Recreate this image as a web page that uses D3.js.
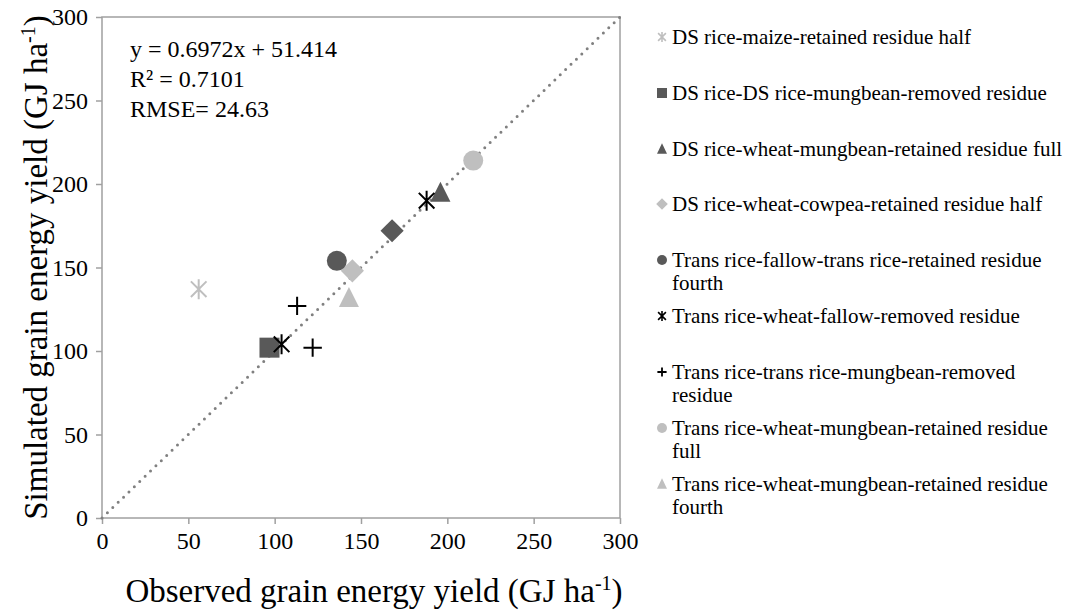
<!DOCTYPE html>
<html>
<script src="https://d3js.org/d3.v7.min.js"></script>
<style>
    body { margin: 0; background: #fff; }
    text { font-family: "Liberation Serif", "Times New Roman", serif; fill: #000; }
    .axis .domain { display: none; }
    .axis line { stroke: #a0a0a0; stroke-width: 1.5px; }
    .axis text { font-size: 24px; }
</style>
<body></body>
<script>
    // series in legend order; last one (dark diamond) has no legend entry
    const seriesNames = [
        "DS rice-maize-retained residue half",
        "DS rice-DS rice-mungbean-removed residue",
        "DS rice-wheat-mungbean-retained residue full",
        "DS rice-wheat-cowpea-retained residue half",
        "Trans rice-fallow-trans rice-retained residue fourth",
        "Trans rice-wheat-fallow-removed residue",
        "Trans rice-trans rice-mungbean-removed residue",
        "Trans rice-wheat-mungbean-retained residue full",
        "Trans rice-wheat-mungbean-retained residue fourth",
        ""
    ];
    const observed = [[56], [97], [196], [145], [136], [104, 188], [113, 122], [215], [143], [168]];
    const simulated = [[137], [102], [195], [148], [154], [104, 190], [127, 102], [214], [132], [172]];
    const markerShapes = ["star", "square", "triangle", "diamond", "circle", "star", "plus", "circle", "triangle", "diamond"];
    const markerColors = ["#bfbfbf", "#595959", "#595959", "#bfbfbf", "#595959", "#000", "#000", "#bfbfbf", "#bfbfbf", "#595959"];
    const tickValues = [0, 50, 100, 150, 200, 250, 300];
    const legendLines = [
        ["DS rice-maize-retained residue half"],
        ["DS rice-DS rice-mungbean-removed residue"],
        ["DS rice-wheat-mungbean-retained residue full"],
        ["DS rice-wheat-cowpea-retained residue half"],
        ["Trans rice-fallow-trans rice-retained residue", "fourth"],
        ["Trans rice-wheat-fallow-removed residue"],
        ["Trans rice-trans rice-mungbean-removed", "residue"],
        ["Trans rice-wheat-mungbean-retained residue", "full"],
        ["Trans rice-wheat-mungbean-retained residue", "fourth"]
    ];
    const statLines = ["y = 0.6972x + 51.414", "R² = 0.7101", "RMSE= 24.63"];

    const width = 1076, height = 612;
    const svg = d3.select("body").append("svg").attr("width", width).attr("height", height);

    const x = d3.scaleLinear().domain([0, 300]).range([102, 620]);
    const y = d3.scaleLinear().domain([0, 300]).range([518, 17]);

    // plot border
    svg.append("rect")
        .attr("x", x(0)).attr("y", y(300))
        .attr("width", x(300) - x(0)).attr("height", y(0) - y(300))
        .attr("fill", "none").attr("stroke", "#a0a0a0").attr("stroke-width", 1.5);

    svg.append("g").attr("class", "axis")
        .attr("transform", `translate(0,${y(0)})`)
        .call(d3.axisBottom(x).tickValues(tickValues).tickSize(6).tickPadding(8));
    svg.append("g").attr("class", "axis")
        .attr("transform", `translate(${x(0)},0)`)
        .call(d3.axisLeft(y).tickValues(tickValues).tickSize(6).tickPadding(8));

    // 1:1 line
    svg.append("line")
        .attr("x1", x(0)).attr("y1", y(0)).attr("x2", x(300)).attr("y2", y(300))
        .attr("stroke", "#808080").attr("stroke-width", 3)
        .attr("stroke-linecap", "round").attr("stroke-dasharray", "0 7.5");

    function marker(sel, shape, color, s) {
        if (shape === "circle") {
            sel.append("circle").attr("r", s / 2).attr("fill", color);
        } else if (shape === "square") {
            sel.append("rect").attr("x", -s / 2).attr("y", -s / 2).attr("width", s).attr("height", s).attr("fill", color);
        } else if (shape === "triangle") {
            const h = s * 0.95;
            sel.append("path").attr("d", `M0,${-h / 2 - 1}L${s / 2},${h / 2}L${-s / 2},${h / 2}Z`).attr("fill", color);
        } else if (shape === "diamond") {
            const r = s * 0.58;
            sel.append("path").attr("d", `M0,${-r}L${r},0L0,${r}L${-r},0Z`).attr("fill", color);
        } else if (shape === "plus") {
            const r = s * 0.46;
            sel.append("path").attr("d", `M${-r},0H${r}M0,${-r}V${r}`)
                .attr("stroke", color).attr("stroke-width", s > 12 ? 2 : 1.8).attr("fill", "none");
        } else if (shape === "star") {
            const r = s * 0.5, d = r * 0.78;
            sel.append("path").attr("d", `M0,${-r}V${r}M${-d},${-d}L${d},${d}M${-d},${d}L${d},${-d}`)
                .attr("stroke", color).attr("stroke-width", s > 12 ? 2 : 1.6).attr("fill", "none");
        }
    }

    // points
    seriesNames.forEach((name, i) => {
        observed[i].forEach((ov, j) => {
            const g = svg.append("g").attr("transform", `translate(${x(ov)},${y(simulated[i][j])})`);
            marker(g, markerShapes[i], markerColors[i], 20);
        });
    });

    // regression stats
    svg.append("g").selectAll("text").data(statLines).join("text")
        .attr("x", 130).attr("y", (d, i) => 57 + i * 30)
        .attr("font-size", 24)
        .text(d => d);

    // axis titles
    const xt = svg.append("text").attr("x", 374).attr("y", 602)
        .attr("text-anchor", "middle").attr("font-size", 33);
    xt.append("tspan").text("Observed grain energy yield (GJ ha");
    xt.append("tspan").attr("dy", -12).attr("font-size", 20).text("-1");
    xt.append("tspan").attr("dy", 12).text(")");

    const yt = svg.append("text").attr("transform", `translate(47,${y(150)}) rotate(-90)`)
        .attr("text-anchor", "middle").attr("font-size", 33);
    yt.append("tspan").text("Simulated grain energy yield (GJ ha");
    yt.append("tspan").attr("dy", -12).attr("font-size", 20).text("-1");
    yt.append("tspan").attr("dy", 12).text(")");

    // legend
    const legendTop = [37, 93, 149, 204, 260, 316, 372, 428, 484];
    legendLines.forEach((lines, i) => {
        const g = svg.append("g").attr("transform", `translate(0,${legendTop[i]})`);
        const m = g.append("g").attr("transform", `translate(662,0)`);
        marker(m, markerShapes[i], markerColors[i], 10);
        lines.forEach((t, k) => {
            g.append("text").attr("x", 672).attr("y", 7 + k * 23)
                .attr("font-size", 21).text(t);
        });
    });
</script>

</html>
